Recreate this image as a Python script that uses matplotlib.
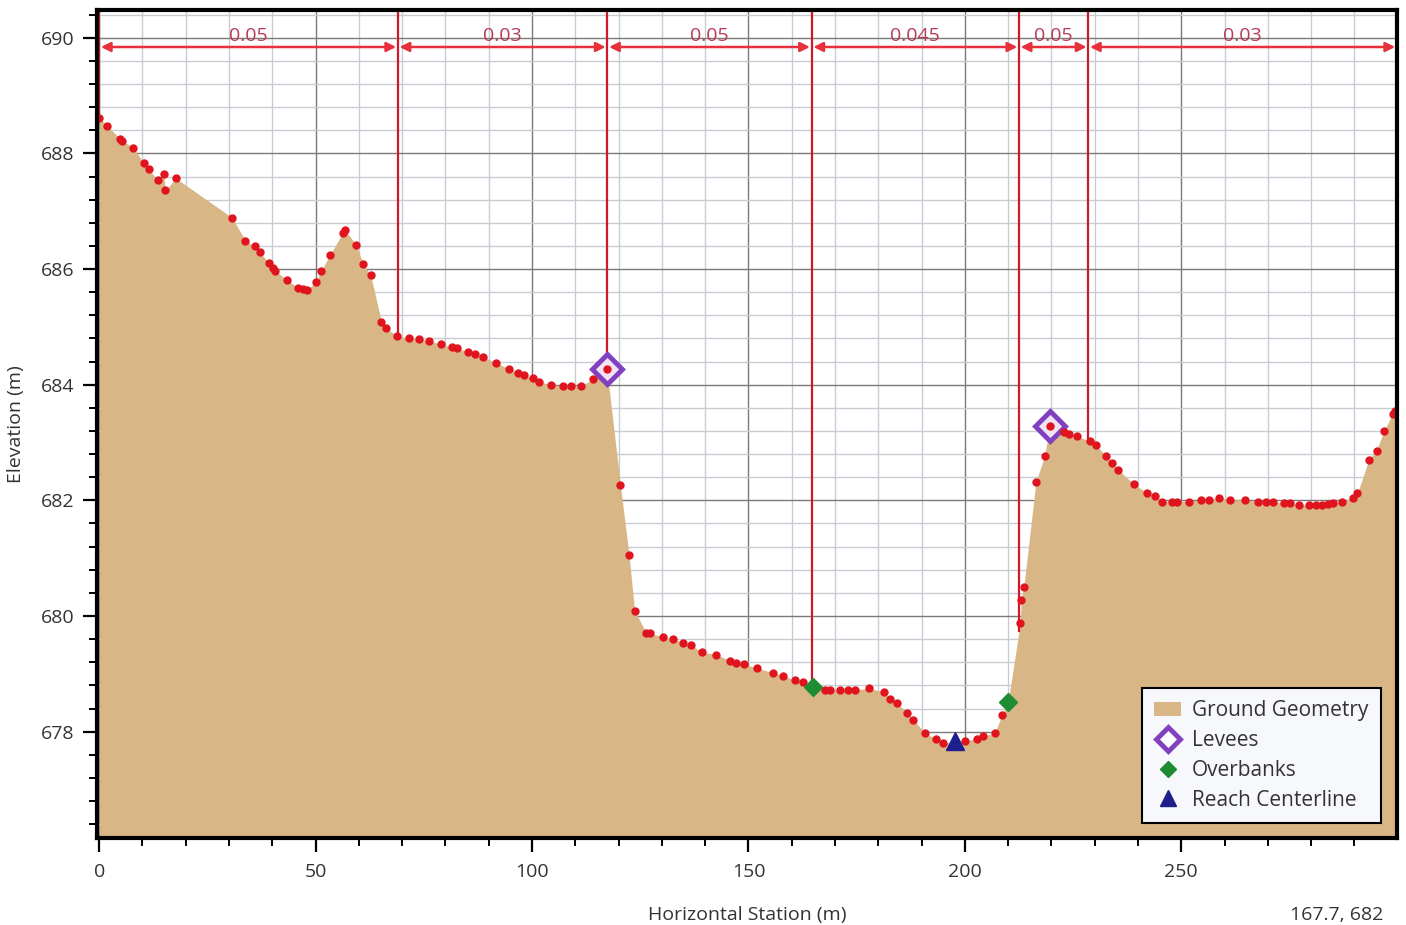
import numpy as np
import matplotlib
matplotlib.use("Agg")
import matplotlib.pyplot as plt
from matplotlib.patches import Patch
from matplotlib.lines import Line2D
from matplotlib.ticker import MultipleLocator

plt.rcParams['font.family'] = ['Open Sans', 'DejaVu Sans']

# ground survey points: station (m), elevation (m)
station = [0.0, 1.8, 4.9, 5.2, 7.9, 10.3, 11.4, 13.5, 14.9, 15.3, 17.7, 30.7, 33.8,
           35.9, 37.1, 39.2, 40.2, 40.7, 43.4, 45.9, 47.1, 47.9, 50.1, 51.2, 53.3,
           56.3, 56.7, 59.4, 61.0, 62.7, 65.2, 66.2, 68.9, 71.6, 73.9, 76.2, 78.9,
           81.6, 82.6, 85.1, 86.8, 88.6, 91.7, 94.7, 96.7, 98.2, 100.2, 101.7,
           104.4, 107.1, 109.0, 111.3, 114.0, 117.3, 120.4, 122.4, 123.7, 126.4,
           127.2, 130.2, 132.6, 134.9, 136.8, 139.3, 142.6, 145.7, 147.2, 149.0,
           151.9, 155.7, 158.0, 160.7, 162.6, 165.0, 167.7, 168.8, 171.1, 173.1,
           174.6, 177.8, 181.2, 182.7, 184.3, 186.6, 188.1, 190.7, 193.3, 195.0,
           197.8, 200.1, 202.8, 204.3, 206.9, 208.6, 210.0, 212.8, 213.0, 213.6,
           216.4, 218.4, 219.7, 222.8, 224.0, 225.9, 229.0, 230.2, 232.6, 233.9,
           235.4, 239.0, 242.1, 244.0, 245.6, 247.9, 249.1, 251.8, 254.5, 256.4,
           258.7, 261.2, 264.7, 267.8, 269.5, 271.2, 273.8, 275.1, 277.2, 279.5,
           281.1, 282.4, 283.8, 285.1, 287.1, 289.6, 290.7, 293.3, 295.1, 296.8,
           298.8, 299.4]
elevation = [688.62, 688.48, 688.25, 688.22, 688.10, 687.83, 687.73, 687.54, 687.64,
             687.36, 687.57, 686.89, 686.49, 686.39, 686.29, 686.11, 686.02, 685.97,
             685.81, 685.68, 685.65, 685.63, 685.78, 685.96, 686.24, 686.63, 686.68,
             686.42, 686.08, 685.90, 685.09, 684.98, 684.84, 684.80, 684.79, 684.76,
             684.70, 684.65, 684.63, 684.57, 684.53, 684.48, 684.38, 684.27, 684.21,
             684.16, 684.11, 684.05, 684.00, 683.97, 683.97, 683.98, 684.09, 684.27,
             682.27, 681.06, 680.09, 679.71, 679.70, 679.64, 679.60, 679.54, 679.49,
             679.38, 679.33, 679.23, 679.19, 679.17, 679.10, 679.02, 678.97, 678.89,
             678.85, 678.78, 678.72, 678.72, 678.72, 678.72, 678.72, 678.75, 678.69,
             678.56, 678.49, 678.33, 678.21, 677.98, 677.87, 677.80, 677.83, 677.84,
             677.88, 677.92, 677.98, 678.29, 678.52, 679.88, 680.28, 680.50, 682.31,
             682.77, 683.29, 683.19, 683.15, 683.11, 683.02, 682.96, 682.77, 682.65,
             682.53, 682.28, 682.13, 682.08, 681.98, 681.97, 681.98, 681.98, 682.01,
             682.01, 682.04, 682.01, 682.01, 681.98, 681.98, 681.98, 681.95, 681.95,
             681.92, 681.92, 681.92, 681.92, 681.94, 681.95, 681.98, 682.04, 682.12,
             682.70, 682.86, 683.20, 683.49, 683.55]

# Manning's n breakpoints and values
n_breaks = [0.0, 69.0, 117.4, 164.6, 212.5, 228.5, 299.8]
n_values = ["0.05", "0.03", "0.05", "0.045", "0.05", "0.03"]

levee_sta = [117.3, 219.7]
levee_elev = [684.27, 683.29]
overbank_sta = [165.0, 210.0]
overbank_elev = [678.78, 678.52]
centerline_sta = [197.8]
centerline_elev = [677.83]

ground_color = "#D9B685"
dot_color = "#E0141E"
n_line_color = "#D01828"

fig = plt.figure(figsize=(14.06, 9.25), dpi=100)
ax = fig.add_axes([0.069, 0.094, 0.9245, 0.8952])

y_bottom, y_top = 676.16, 690.48
ax.set_xlim(-0.5, 299.8)
ax.set_ylim(y_bottom, y_top)

# grid
ax.xaxis.set_major_locator(MultipleLocator(50))
ax.xaxis.set_minor_locator(MultipleLocator(10))
ax.yaxis.set_major_locator(MultipleLocator(2))
ax.yaxis.set_minor_locator(MultipleLocator(0.4))
ax.set_axisbelow(True)
ax.grid(which="major", color="#7A7A7A", lw=1.0)
ax.grid(which="minor", color="#C6CCD2", lw=1.0)

# ground
ax.fill_between(station, elevation, y_bottom, color=ground_color, lw=0, zorder=2)
ax.plot(station, elevation, ls="none", marker="o", ms=5, color=dot_color,
        zorder=6)

# Manning's n regions
for b in n_breaks[:-1]:
    ax.plot([b, b], [np.interp(b, station, elevation), y_top], color=n_line_color,
            lw=1.6, zorder=3, clip_on=False)
arrow_y = 689.84
for i, label in enumerate(n_values):
    x0, x1 = n_breaks[i], n_breaks[i + 1]
    ax.annotate("", xy=(x1 - 0.4, arrow_y), xytext=(x0 + 0.4, arrow_y),
                arrowprops=dict(arrowstyle="<|-|>", color="#E8303C", lw=1.8,
                                mutation_scale=14, shrinkA=0, shrinkB=0),
                zorder=4)
    ax.text((x0 + x1) / 2, arrow_y + 0.03, label, ha="center", va="bottom",
            fontsize=14, color="#B83A58", zorder=4)

# feature markers
ax.plot(levee_sta, levee_elev, ls="none", marker="D", ms=15, mew=3.5,
        mec="#8040C0", mfc="#F2E4F4", zorder=5)
ax.plot(overbank_sta, overbank_elev, ls="none", marker="D", ms=9,
        color="#1E8C32", zorder=7)
ax.plot(centerline_sta, centerline_elev, ls="none", marker="^", ms=13,
        color="#1E1E8C", zorder=7)

for side in ["left", "right", "top", "bottom"]:
    ax.spines[side].set_linewidth(3)
    ax.spines[side].set_color("black")
    ax.spines[side].set_zorder(8)

ax.tick_params(which="major", direction="out", length=10, width=1.6,
               labelsize=14, labelcolor="#333333", pad=8)
ax.tick_params(which="minor", direction="out", length=6, width=1.4)
ax.tick_params(axis="y", which="major", pad=6)
ax.tick_params(top=False, right=False, which="both")

ax.set_xlabel("Horizontal Station (m)", fontsize=14, color="#333333", labelpad=18)
ax.set_ylabel("Elevation (m)", fontsize=14, color="#333333", labelpad=12)

handles = [
    Patch(facecolor=ground_color, edgecolor="none", label="Ground Geometry"),
    Line2D([], [], ls="none", marker="D", ms=12, mew=3.5, mec="#8040C0",
           mfc="white", label="Levees"),
    Line2D([], [], ls="none", marker="D", ms=8, color="#1E8C32", label="Overbanks"),
    Line2D([], [], ls="none", marker="^", ms=12, color="#1E1E8C",
           label="Reach Centerline"),
]
leg = ax.legend(handles=handles, loc="lower right", bbox_to_anchor=(0.9875, 0.018),
                borderaxespad=0, fontsize=15, frameon=True, fancybox=False,
                handlelength=1.3, handletextpad=0.5, labelspacing=0.42,
                borderpad=0.6)
leg.get_frame().set_edgecolor("black")
leg.get_frame().set_linewidth(1.5)
leg.get_frame().set_facecolor("#F6F8FB")
leg.get_frame().set_alpha(1)
leg.set_zorder(9)
for t in leg.get_texts():
    t.set_color("#333333")

fig.text(1290 / 1406, 1 - 906 / 925, "167.7, 682", fontsize=14, color="#333333",
         ha="left", va="top")

fig.savefig("out.png", dpi=100)
